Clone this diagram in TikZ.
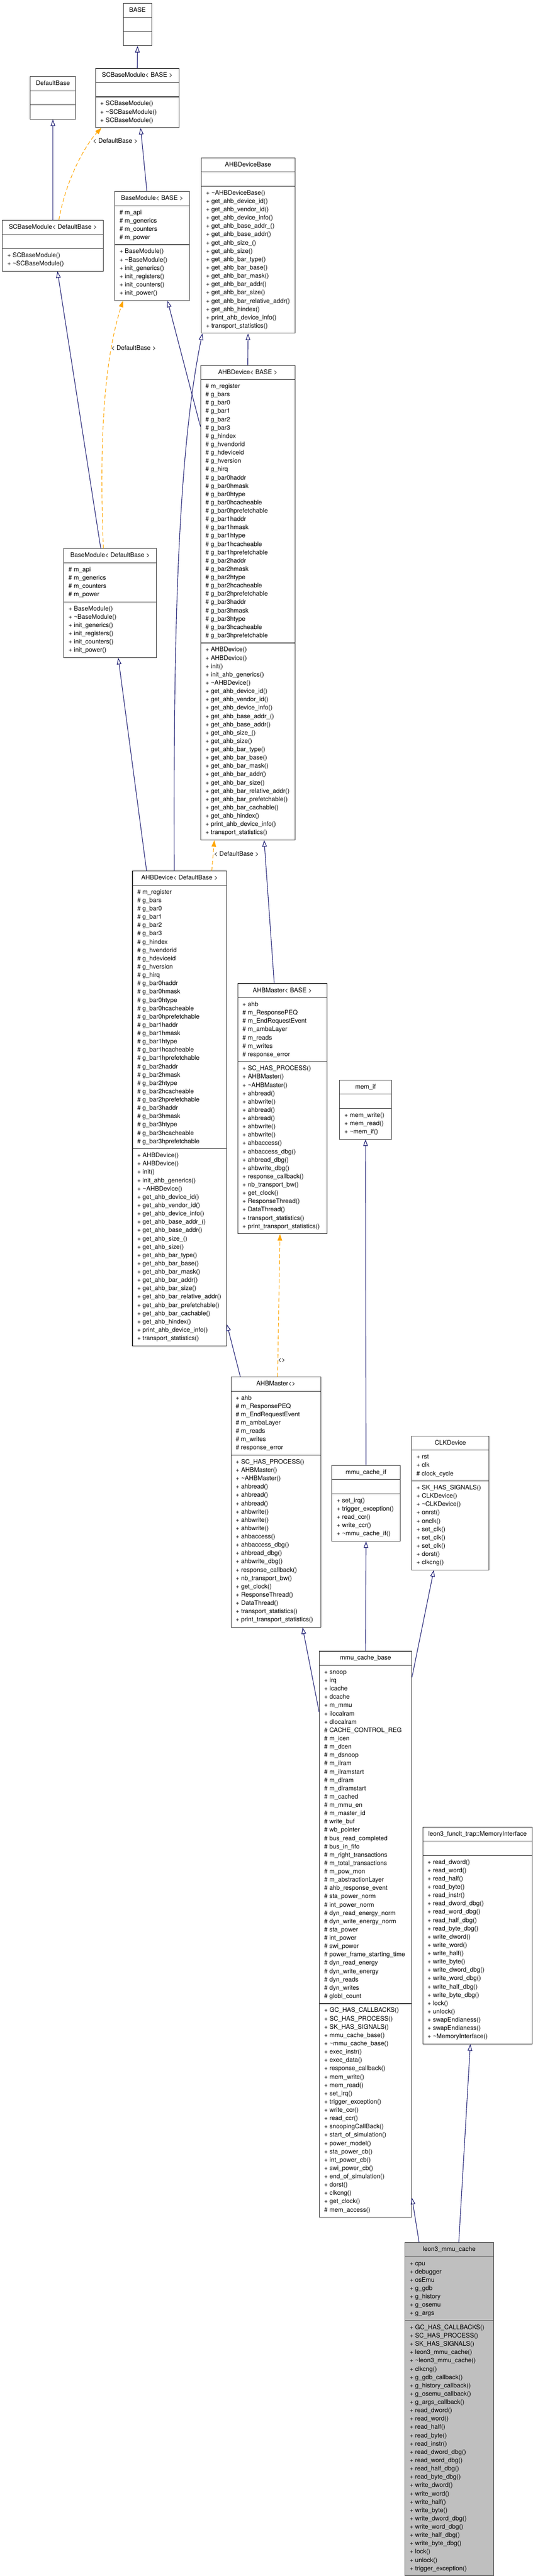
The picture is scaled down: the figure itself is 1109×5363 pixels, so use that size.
\documentclass[tikz,border=0pt]{standalone}
\usepackage{fontspec}
\setmainfont{TeX Gyre Heros}
\usetikzlibrary{shapes.multipart,arrows.meta,calc}

\definecolor{edgeblue}{RGB}{25,25,112}
\definecolor{tplorange}{RGB}{255,165,0}
\definecolor{leafgray}{RGB}{191,191,191}

% Listas que se repiten
\newcommand\bmattrs{\strut\# m\_api\\\# m\_generics\\\# m\_counters\\\# m\_power\strut}
\newcommand\bmops{\strut+ BaseModule()\\+ \textasciitilde BaseModule()\\+ init\_generics()\\+ init\_registers()\\+ init\_counters()\\+ init\_power()\strut}
\newcommand\ahbdevattrs{\strut\# m\_register\\\# g\_bars\\\# g\_bar0\\\# g\_bar1\\\# g\_bar2\\\# g\_bar3\\\# g\_hindex\\\# g\_hvendorid\\\# g\_hdeviceid\\\# g\_hversion\\\# g\_hirq\\%
\# g\_bar0haddr\\\# g\_bar0hmask\\\# g\_bar0htype\\\# g\_bar0hcacheable\\\# g\_bar0hprefetchable\\%
\# g\_bar1haddr\\\# g\_bar1hmask\\\# g\_bar1htype\\\# g\_bar1hcacheable\\\# g\_bar1hprefetchable\\%
\# g\_bar2haddr\\\# g\_bar2hmask\\\# g\_bar2htype\\\# g\_bar2hcacheable\\\# g\_bar2hprefetchable\\%
\# g\_bar3haddr\\\# g\_bar3hmask\\\# g\_bar3htype\\\# g\_bar3hcacheable\\\# g\_bar3hprefetchable\strut}
\newcommand\ahbdevops{\strut+ AHBDevice()\\+ AHBDevice()\\+ init()\\+ init\_ahb\_generics()\\+ \textasciitilde AHBDevice()\\+ get\_ahb\_device\_id()\\+ get\_ahb\_vendor\_id()\\+ get\_ahb\_device\_info()\\%
+ get\_ahb\_base\_addr\_()\\+ get\_ahb\_base\_addr()\\+ get\_ahb\_size\_()\\+ get\_ahb\_size()\\+ get\_ahb\_bar\_type()\\+ get\_ahb\_bar\_base()\\+ get\_ahb\_bar\_mask()\\+ get\_ahb\_bar\_addr()\\%
+ get\_ahb\_bar\_size()\\+ get\_ahb\_bar\_relative\_addr()\\+ get\_ahb\_bar\_prefetchable()\\+ get\_ahb\_bar\_cachable()\\+ get\_ahb\_hindex()\\+ print\_ahb\_device\_info()\\+ transport\_statistics()\strut}
\newcommand\ahbmattrs{\strut+ ahb\\\# m\_ResponsePEQ\\\# m\_EndRequestEvent\\\# m\_ambaLayer\\\# m\_reads\\\# m\_writes\\\# response\_error\strut}

\begin{document}
\begin{tikzpicture}[x=1pt, y=-1pt,
  cls/.style={rectangle split, rectangle split parts=3, draw=black!80, line width=1.2pt,
    anchor=north west, inner xsep=10pt, inner ysep=5.5pt, align=left,
    rectangle split part align={center,left,left},
    font=\fontsize{13}{17.3}\selectfont},
  inh/.style={draw=edgeblue, line width=1.2pt, -{Triangle[open,length=13.5pt,width=9.5pt]}},
  tpl/.style={draw=tplorange, line width=1.2pt, dash pattern=on 8pt off 5pt, -{Triangle[length=13.5pt,width=9.5pt]}},
  lbl/.style={font=\fontsize{13}{17.3}\selectfont, inner sep=0pt}]

\useasboundingbox (0,0) rectangle (1109,5363);

% Clases base
\node[cls, minimum width=59pt] (base) at (256,6) {\strut BASE\nodepart{two}\strut\nodepart{three}\strut};
\node[cls, minimum width=95pt] (dfb) at (62,159) {\strut DefaultBase\nodepart{two}\strut\nodepart{three}\strut};

\node[cls, minimum width=174pt] (scbB) at (198,142) {\strut SCBaseModule< BASE >\nodepart{two}\strut
  \nodepart{three}\strut+ SCBaseModule()\\+ \textasciitilde SCBaseModule()\\+ SCBaseModule()\strut};
\node[cls, minimum width=210pt] (scbD) at (4.5,458) {\strut SCBaseModule< DefaultBase >\nodepart{two}\strut
  \nodepart{three}\strut+ SCBaseModule()\\+ \textasciitilde SCBaseModule()\strut};

\node[cls, minimum width=156pt] (bmB) at (238,398) {\strut BaseModule< BASE >\nodepart{two}\bmattrs\nodepart{three}\bmops};
\node[cls, minimum width=193pt] (bmD) at (132,1141.5) {\strut BaseModule< DefaultBase >\nodepart{two}\bmattrs\nodepart{three}\bmops};

\node[cls, minimum width=195pt] (ahbdb) at (418,328) {\strut AHBDeviceBase\nodepart{two}\strut
  \nodepart{three}\strut+ \textasciitilde AHBDeviceBase()\\+ get\_ahb\_device\_id()\\+ get\_ahb\_vendor\_id()\\+ get\_ahb\_device\_info()\\+ get\_ahb\_base\_addr\_()\\+ get\_ahb\_base\_addr()\\+ get\_ahb\_size\_()\\+ get\_ahb\_size()\\+ get\_ahb\_bar\_type()\\+ get\_ahb\_bar\_base()\\+ get\_ahb\_bar\_mask()\\+ get\_ahb\_bar\_addr()\\+ get\_ahb\_bar\_size()\\+ get\_ahb\_bar\_relative\_addr()\\+ get\_ahb\_hindex()\\+ print\_ahb\_device\_info()\\+ transport\_statistics()\strut};

% Dispositivos AHB
\node[cls, minimum width=196pt] (ahbdB) at (417,760) {\strut AHBDevice< BASE >\nodepart{two}\ahbdevattrs\nodepart{three}\ahbdevops};
\node[cls, minimum width=196pt] (ahbdD) at (275,1813) {\strut AHBDevice< DefaultBase >\nodepart{two}\ahbdevattrs\nodepart{three}\ahbdevops};

\node[cls, minimum width=186pt] (ahbmB) at (494,2047) {\strut AHBMaster< BASE >\nodepart{two}\ahbmattrs
  \nodepart{three}\strut+ SC\_HAS\_PROCESS()\\+ AHBMaster()\\+ \textasciitilde AHBMaster()\\+ ahbread()\\+ ahbwrite()\\+ ahbread()\\+ ahbread()\\+ ahbwrite()\\+ ahbwrite()\\+ ahbaccess()\\+ ahbaccess\_dbg()\\+ ahbread\_dbg()\\+ ahbwrite\_dbg()\\+ response\_callback()\\+ nb\_transport\_bw()\\+ get\_clock()\\+ ResponseThread()\\+ DataThread()\\+ transport\_statistics()\\+ print\_transport\_statistics()\strut};

\node[cls, minimum width=108pt] (memif) at (706,2248) {\strut mem\_if\nodepart{two}\strut
  \nodepart{three}\strut+ mem\_write()\\+ mem\_read()\\+ \textasciitilde mem\_if()\strut};

\node[cls, minimum width=187pt] (ahbm) at (480,2866) {\strut AHBMaster<>\nodepart{two}\ahbmattrs
  \nodepart{three}\strut+ SC\_HAS\_PROCESS()\\+ AHBMaster()\\+ \textasciitilde AHBMaster()\\+ ahbread()\\+ ahbread()\\+ ahbread()\\+ ahbwrite()\\+ ahbwrite()\\+ ahbwrite()\\+ ahbaccess()\\+ ahbaccess\_dbg()\\+ ahbread\_dbg()\\+ ahbwrite\_dbg()\\+ response\_callback()\\+ nb\_transport\_bw()\\+ get\_clock()\\+ ResponseThread()\\+ DataThread()\\+ transport\_statistics()\\+ print\_transport\_statistics()\strut};

\node[cls, minimum width=142pt] (mcif) at (690,3050) {\strut mmu\_cache\_if\nodepart{two}\strut
  \nodepart{three}\strut+ set\_irq()\\+ trigger\_exception()\\+ read\_ccr()\\+ write\_ccr()\\+ \textasciitilde mmu\_cache\_if()\strut};

\node[cls, minimum width=161pt] (clk) at (856,2989) {\strut CLKDevice\nodepart{two}\strut+ rst\\+ clk\\\# clock\_cycle\strut
  \nodepart{three}\strut+ SK\_HAS\_SIGNALS()\\+ CLKDevice()\\+ \textasciitilde CLKDevice()\\+ onrst()\\+ onclk()\\+ set\_clk()\\+ set\_clk()\\+ set\_clk()\\+ dorst()\\+ clkcng()\strut};

% Cache y memoria
\node[cls, minimum width=192pt] (mcb) at (664,3437) {\strut mmu\_cache\_base
  \nodepart{two}\strut+ snoop\\+ irq\\+ icache\\+ dcache\\+ m\_mmu\\+ ilocalram\\+ dlocalram\\\# CACHE\_CONTROL\_REG\\\# m\_icen\\\# m\_dcen\\\# m\_dsnoop\\\# m\_ilram\\\# m\_ilramstart\\\# m\_dlram\\\# m\_dlramstart\\\# m\_cached\\\# m\_mmu\_en\\\# m\_master\_id\\\# write\_buf\\\# wb\_pointer\\\# bus\_read\_completed\\\# bus\_in\_fifo\\\# m\_right\_transactions\\\# m\_total\_transactions\\\# m\_pow\_mon\\\# m\_abstractionLayer\\\# ahb\_response\_event\\\# sta\_power\_norm\\\# int\_power\_norm\\\# dyn\_read\_energy\_norm\\\# dyn\_write\_energy\_norm\\\# sta\_power\\\# int\_power\\\# swi\_power\\\# power\_frame\_starting\_time\\\# dyn\_read\_energy\\\# dyn\_write\_energy\\\# dyn\_reads\\\# dyn\_writes\\\# globl\_count\strut
  \nodepart{three}\strut+ GC\_HAS\_CALLBACKS()\\+ SC\_HAS\_PROCESS()\\+ SK\_HAS\_SIGNALS()\\+ mmu\_cache\_base()\\+ \textasciitilde mmu\_cache\_base()\\+ exec\_instr()\\+ exec\_data()\\+ response\_callback()\\+ mem\_write()\\+ mem\_read()\\+ set\_irq()\\+ trigger\_exception()\\+ write\_ccr()\\+ read\_ccr()\\+ snoopingCallBack()\\+ start\_of\_simulation()\\+ power\_model()\\+ sta\_power\_cb()\\+ int\_power\_cb()\\+ swi\_power\_cb()\\+ end\_of\_simulation()\\+ dorst()\\+ clkcng()\\+ get\_clock()\\\# mem\_access()\strut};

\node[cls, minimum width=228pt] (memi) at (879,3803) {\strut leon3\_funclt\_trap::MemoryInterface\nodepart{two}\strut
  \nodepart{three}\strut+ read\_dword()\\+ read\_word()\\+ read\_half()\\+ read\_byte()\\+ read\_instr()\\+ read\_dword\_dbg()\\+ read\_word\_dbg()\\+ read\_half\_dbg()\\+ read\_byte\_dbg()\\+ write\_dword()\\+ write\_word()\\+ write\_half()\\+ write\_byte()\\+ write\_dword\_dbg()\\+ write\_word\_dbg()\\+ write\_half\_dbg()\\+ write\_byte\_dbg()\\+ lock()\\+ unlock()\\+ swapEndianess()\\+ swapEndianess()\\+ \textasciitilde MemoryInterface()\strut};

\node[cls, minimum width=184pt, fill=leafgray] (leon) at (842,4668) {\strut leon3\_mmu\_cache
  \nodepart{two}\strut+ cpu\\+ debugger\\+ osEmu\\+ g\_gdb\\+ g\_history\\+ g\_osemu\\+ g\_args\strut
  \nodepart{three}\strut+ GC\_HAS\_CALLBACKS()\\+ SC\_HAS\_PROCESS()\\+ SK\_HAS\_SIGNALS()\\+ leon3\_mmu\_cache()\\+ \textasciitilde leon3\_mmu\_cache()\\+ clkcng()\\+ g\_gdb\_callback()\\+ g\_history\_callback()\\+ g\_osemu\_callback()\\+ g\_args\_callback()\\+ read\_dword()\\+ read\_word()\\+ read\_half()\\+ read\_byte()\\+ read\_instr()\\+ read\_dword\_dbg()\\+ read\_word\_dbg()\\+ read\_half\_dbg()\\+ read\_byte\_dbg()\\+ write\_dword()\\+ write\_word()\\+ write\_half()\\+ write\_byte()\\+ write\_dword\_dbg()\\+ write\_word\_dbg()\\+ write\_half\_dbg()\\+ write\_byte\_dbg()\\+ lock()\\+ unlock()\\+ trigger\_exception()\strut};

% Herencia
\draw[inh] (scbB.north) -- (base.south);
\draw[inh] (scbD.north) -- (dfb.south);
\draw[inh] ($(bmB.north)+(-11,0)$) -- ($(scbB.south)+(7,0)$);
\draw[inh] ($(bmD.north)+(-19.5,0)$) -- ($(scbD.south)+(9.5,0)$);
\draw[inh] (ahbdB.north) -- (ahbdb.south);
\draw[inh] ($(ahbdB.north west)+(0,128)$) -- ($(bmB.south)+(32,0)$);
\draw[inh] ($(ahbdD.north)+(-11,0)$) .. controls +(-2,-463) and +(-53,260) .. ($(ahbdb.south west)+(3,0)$);
\draw[inh] ($(ahbdD.north west)+(30,0)$) -- ($(bmD.south)+(17,0)$);
\draw[inh] ($(ahbmB.north)+(-17,0)$) -- ($(ahbdB.south)+(34,0)$);
\draw[inh] ($(ahbm.north west)+(20,0)$) -- ($(ahbdD.south east)+(0,-45)$);
\draw[inh] (mcif.north) -- (memif.south);
\draw[inh] ($(mcb.north west)+(0,127)$) -- ($(ahbm.south)+(55.5,0)$);
\draw[inh] (mcb.north) -- (mcif.south);
\draw[inh] ($(mcb.north east)+(0,55)$) -- ($(clk.south)+(-34.5,0)$);
\draw[inh] ($(leon.north west)+(30,0)$) -- ($(mcb.south east)+(0,-41)$);
\draw[inh] ($(leon.north)+(20,0)$) -- ($(memi.south)+(-15,0)$);

% Instancias de plantilla
\draw[tpl] ($(scbD.north)+(12.5,0)$) .. controls +(13,-78) and +(-36,38) .. ($(scbB.south west)+(13,0)$);
\node[lbl] (l1) at (240,293) {< DefaultBase >};
\draw[tpl] ($(bmD.north)+(-14,0)$) .. controls +(-7.6,-191) and +(-44,137) .. ($(bmB.south west)+(18,0)$);
\node[lbl] (l2) at (278,724) {< DefaultBase >};
\draw[tpl] ($(ahbdD.north)+(67,0)$) -- ($(ahbdB.south west)+(29,0)$);
\node[lbl] (l3) at (492,1778) {< DefaultBase >};
\draw[tpl] ($(ahbm.north)+(3.5,0)$) -- ($(ahbmB.south)+(-5,0)$);
\node[lbl] (l4) at (586,2832) {<>};

\end{tikzpicture}
\end{document}
